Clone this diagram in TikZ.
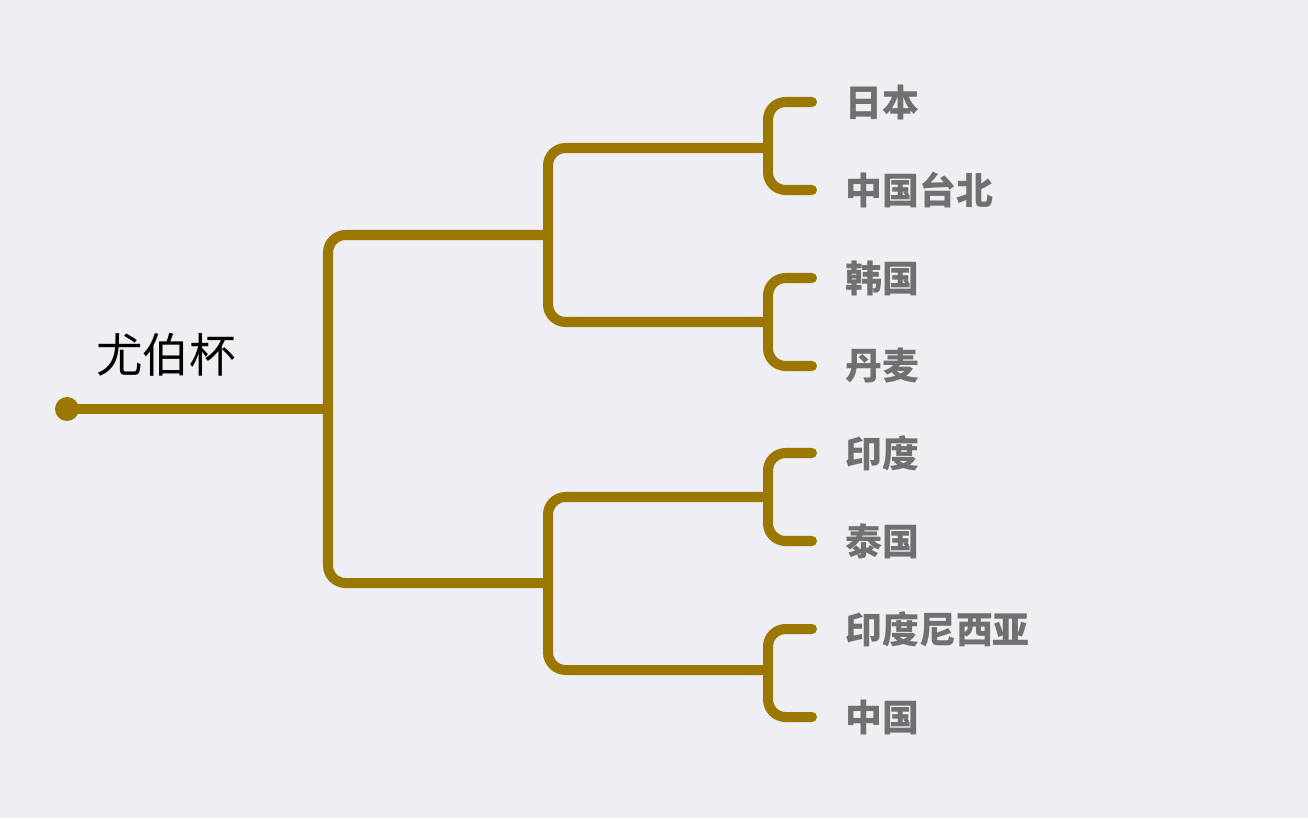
\documentclass[tikz,border=0pt]{standalone}
\usepackage{fontspec}
\newfontfamily\cjk{Noto Sans CJK SC}
\usetikzlibrary{positioning}
\definecolor{branch}{HTML}{9A7800}
\definecolor{leafgray}{HTML}{707070}
\definecolor{bg}{HTML}{EFEEF3}
\begin{document}
\begin{tikzpicture}[x=0.02cm,y=-0.02cm]
\tikzstyle{link}=[draw=branch, line width=5.7pt, rounded corners=10pt, line cap=round]
\tikzstyle{leaf}=[anchor=west, inner sep=0pt, text=leafgray, font=\cjk\bfseries\fontsize{21}{24}\selectfont]
\fill[bg] (0,0) rectangle (1308,818);
\useasboundingbox (0,0) rectangle (1308,818);
% root
\coordinate (root) at (67,409);
\fill[branch] (root) circle (12);
\node[anchor=west, inner sep=0pt, font=\cjk\fontsize{26.5}{30}\selectfont] (cup) at (96,355) {尤伯杯};
\draw[link] (root) -- (328,409);
% level one
\draw[link] (548,235) -- (328,235) -- (328,583) -- (548,583);
% level two
\draw[link] (768,148) -- (548,148) -- (548,322) -- (768,322);
\draw[link] (768,497) -- (548,497) -- (548,670) -- (768,670);
% leaves
\foreach \y/\ya/\yb in {146/102/190, 322/278/366, 497/453/541, 673/629/717}
  \draw[link] (812,\ya) -- (768,\ya) -- (768,\yb) -- (812,\yb);
\node[leaf] (japan) at (845,102) {日本};
\node[leaf] (taipei) at (845,190) {中国台北};
\node[leaf] (korea) at (845,278) {韩国};
\node[leaf] (denmark) at (845,366) {丹麦};
\node[leaf] (india) at (845,453) {印度};
\node[leaf] (thai) at (845,541) {泰国};
\node[leaf] (indonesia) at (845,629) {印度尼西亚};
\node[leaf] (china) at (845,717) {中国};
\end{tikzpicture}
\end{document}
